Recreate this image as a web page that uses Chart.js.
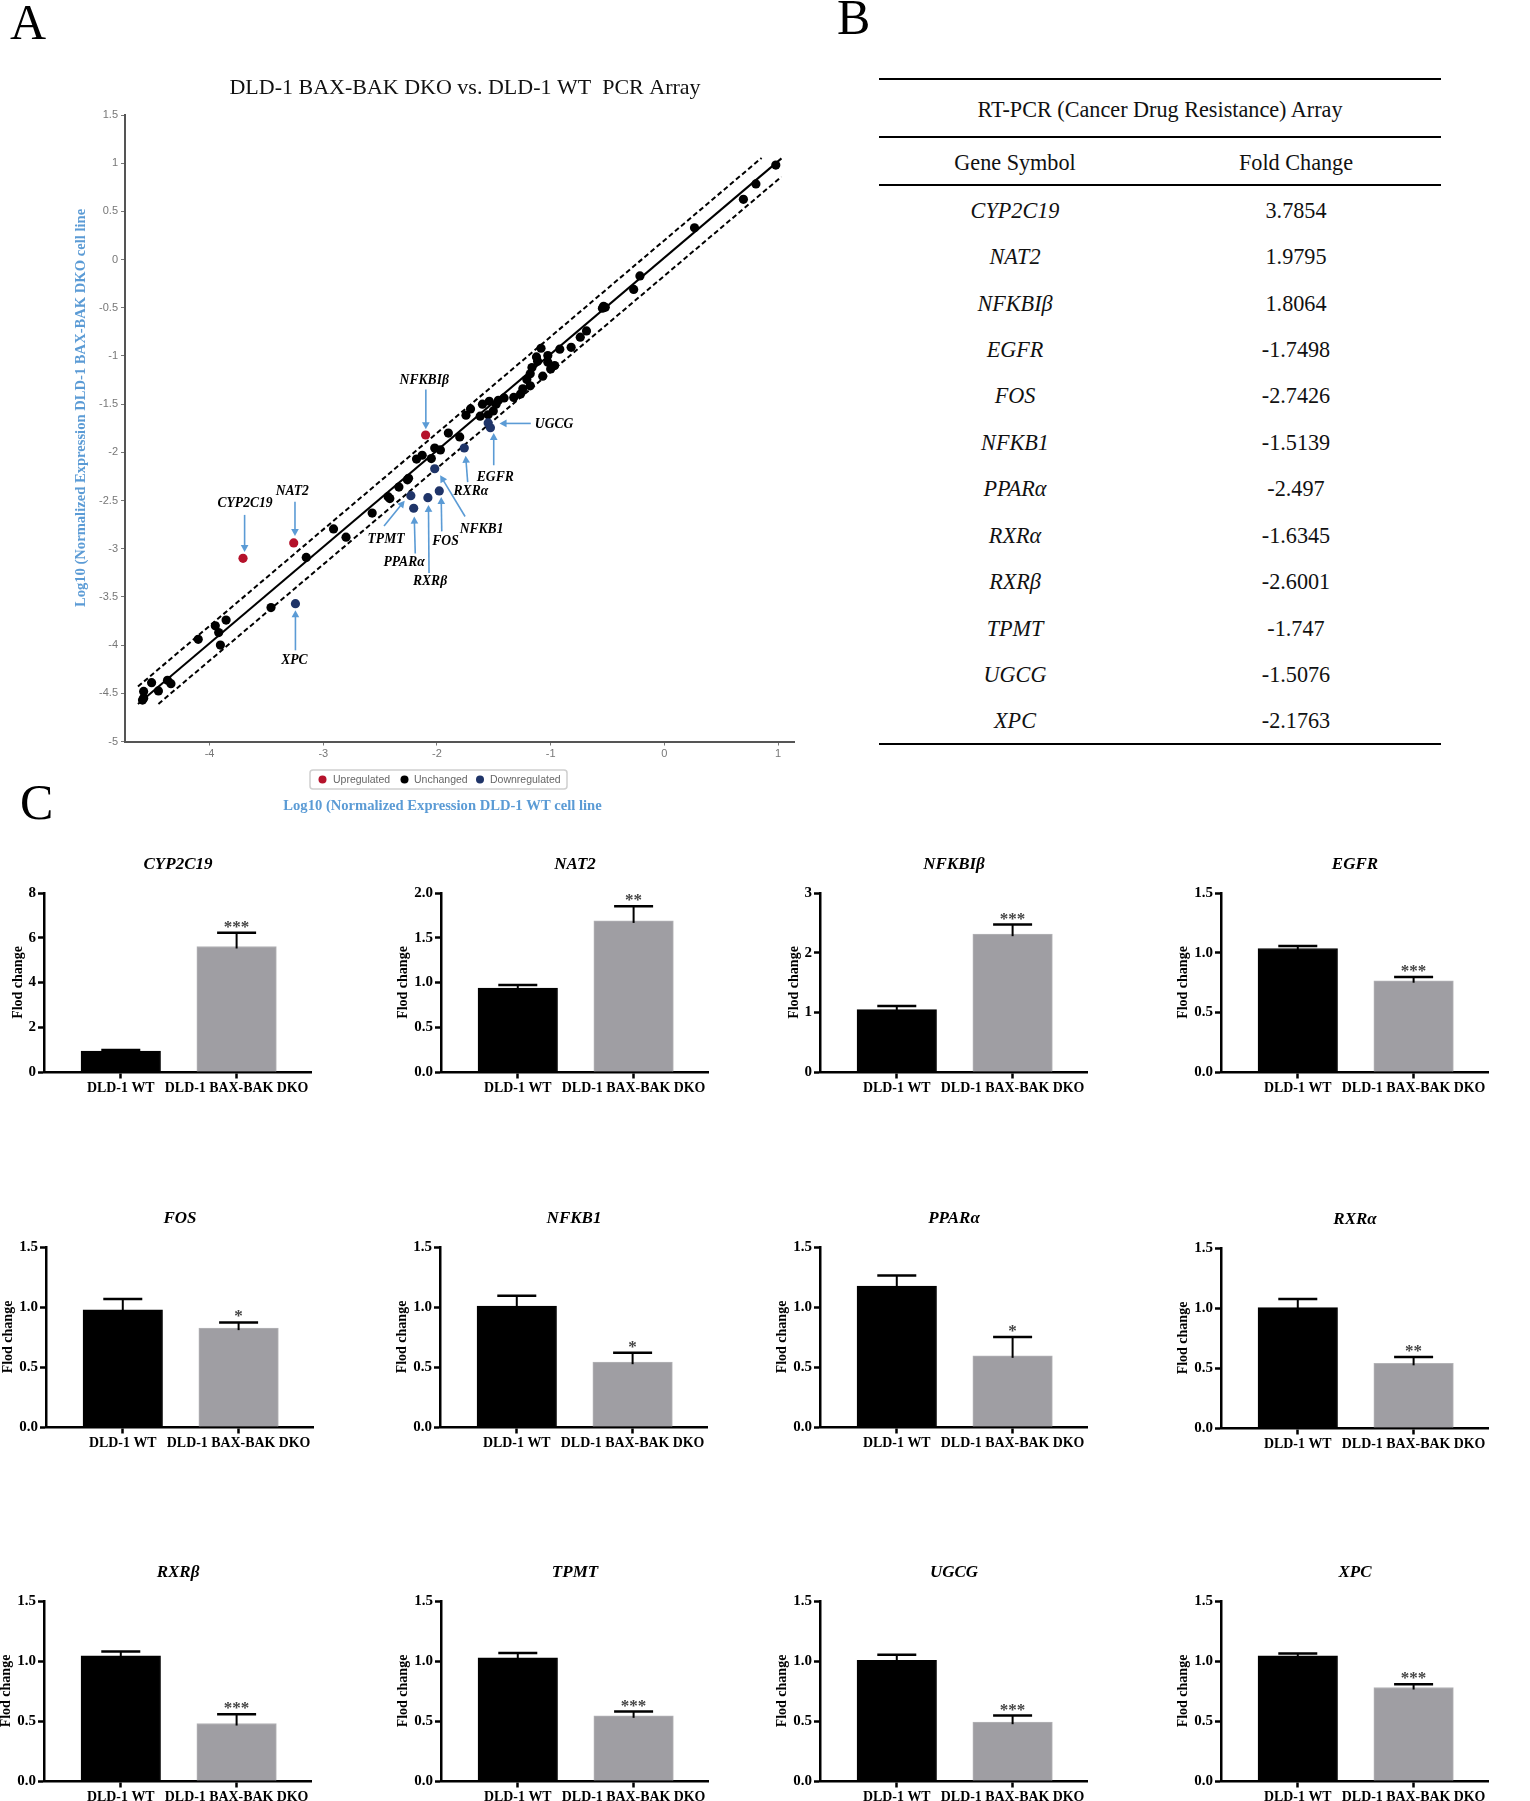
<!DOCTYPE html>
<html>
<head>
<meta charset="utf-8">
<title>PCR array</title>
<script src="https://cdn.jsdelivr.net/npm/chart.js@4"></script>
<style>
  html, body { margin: 0; padding: 0; background: #fff; overflow: hidden; }
  #page { position: relative; width: 1530px; height: 1801px; overflow: hidden; font-family: "Liberation Serif", serif; }
  #page canvas { position: absolute; }
  .letter { position: absolute; font-size: 50px; line-height: 50px; color: #000; }
  table { position: absolute; left: 879px; top: 78px; width: 562px; border-collapse: collapse; table-layout: fixed; font-size: 22.2px; color: #111; }
  td { padding: 3px 0 0 0; text-align: center; vertical-align: middle; height: 43.43px; }
  td.gene { font-style: italic; }
  tr.head td { border-top: 2px solid #000; padding-top: 4px; height: 52px; }
  tr.cols td { border-top: 2px solid #000; border-bottom: 2px solid #000; padding-top: 4px; height: 42px; }
  tr.last td { border-bottom: 2px solid #000; }
</style>
</head>
<body>
<div id="page">
  <div class="letter" style="left:10px;top:-3px">A</div>
  <div class="letter" style="left:837px;top:-8px">B</div>
  <div class="letter" style="left:20px;top:777px">C</div>
  <table id="foldTable"></table>
</div>
<script>
const upregulatedX = [-3.706, -3.26, -2.10];
const upregulatedY = [-3.10, -2.94, -1.82];
const downregulatedX = [-3.245, -2.23, -2.205, -2.08, -1.98, -2.02, -1.76, -1.55, -1.53];
const downregulatedY = [-3.57, -2.45, -2.58, -2.47, -2.40, -2.17, -1.955, -1.695, -1.745];
const unchangedX = [-4.58, -4.58, -4.59, -4.51, -4.45, -4.37, -4.34, -4.10, -3.95, -3.92, -3.855, -3.905, -3.46,
  -3.15, -2.91, -2.80, -2.57, -2.43, -2.415, -2.335, -2.26, -2.25, -2.18, -2.13, -2.05, -2.02, -1.97, -1.90, -1.80,
  -1.745, -1.705, -1.62, -1.60, -1.55, -1.54, -1.505, -1.48, -1.46, -1.41, -1.325, -1.265, -1.245, -1.18, -1.21,
  -1.18, -1.165, -1.125, -1.115, -1.085, -1.025, -1.025, -1.07, -1.0, -0.965, -0.92, -0.82, -0.74, -0.685,
  -0.545, -0.52, -0.535, -0.27, -0.215, 0.265, 0.695, 0.805, 0.98];
const unchangedY = [-4.48, -4.55, -4.57, -4.39, -4.475, -4.365, -4.40, -3.94, -3.80, -3.87, -3.74, -4.00, -3.61,
  -3.09, -2.795, -2.88, -2.63, -2.46, -2.48, -2.36, -2.285, -2.27, -2.07, -2.03, -2.065, -1.955, -1.975, -1.80, -1.84,
  -1.615, -1.55, -1.625, -1.50, -1.61, -1.47, -1.57, -1.50, -1.46, -1.435, -1.43, -1.395, -1.34, -1.31, -1.245,
  -1.185, -1.12, -1.01, -1.055, -0.92, -0.995, -1.065, -1.21, -1.135, -1.10, -0.93, -0.91, -0.805, -0.74,
  -0.505, -0.495, -0.485, -0.31, -0.17, 0.33, 0.625, 0.785, 0.98];
const centerLineX = [-4.63, 1.03];
const centerLineY = [-4.61, 1.05];
const upperLineX = [-4.63, 0.855];
const upperLineY = [-4.43, 1.055];
const lowerLineX = [-4.45, 1.03];
const lowerLineY = [-4.61, 0.86];
const scatterXTicks = [-4, -3, -2, -1, 0, 1];
const scatterYTicks = [-5, -4.5, -4, -3.5, -3, -2.5, -2, -1.5, -1, -0.5, 0, 0.5, 1, 1.5];

const genes = ['CYP2C19', 'NAT2', 'NFKBIβ', 'EGFR', 'FOS', 'NFKB1', 'PPARα', 'RXRα', 'RXRβ', 'TPMT', 'UGCG', 'XPC'];
const foldChanges = ['3.7854', '1.9795', '1.8064', '-1.7498', '-2.7426', '-1.5139', '-2.497', '-1.6345', '-2.6001', '-1.747', '-1.5076', '-2.1763'];
const categories = ['DLD-1 WT', 'DLD-1 BAX-BAK DKO'];
const wtValues = [0.935, 0.939, 1.046, 1.035, 0.977, 1.007, 1.174, 1.003, 1.044, 1.027, 1.005, 1.044];
const dkoValues = [5.61, 1.688, 2.31, 0.765, 0.824, 0.54, 0.593, 0.539, 0.479, 0.543, 0.49, 0.779];
const wtErrorTops = [0.98, 0.972, 1.108, 1.055, 1.066, 1.094, 1.263, 1.075, 1.08, 1.066, 1.052, 1.063];
const dkoErrorTops = [6.22, 1.852, 2.47, 0.796, 0.871, 0.618, 0.751, 0.592, 0.557, 0.579, 0.545, 0.807];
const stars = ['***', '**', '***', '***', '*', '*', '*', '**', '***', '***', '***', '***'];
const axisMax = [8, 2, 3, 1.5, 1.5, 1.5, 1.5, 1.5, 1.5, 1.5, 1.5, 1.5];
const axisStep = [2, 0.5, 1, 0.5, 0.5, 0.5, 0.5, 0.5, 0.5, 0.5, 0.5, 0.5];

// panel frames in page pixels: left end of x axis, top tick and baseline
const panelAxisX = [44, 441, 820, 1221, 46, 440, 820, 1221, 44, 441, 820, 1221];
const panelTop = [893, 893, 893, 893, 1247, 1247, 1247, 1248, 1601, 1601, 1601, 1601];
const panelBase = [1072, 1072, 1072, 1072, 1427, 1427, 1427, 1428, 1781, 1781, 1781, 1781];

// callouts on panel A, in axis units
const callouts = [
  { text: 'CYP2C19', label: [-3.688, -2.529], tail: [-3.692, -2.649], head: [-3.692, -3.033] },
  { text: 'NAT2', label: [-3.273, -2.409], tail: [-3.249, -2.512], head: [-3.249, -2.869] },
  { text: 'NFKBIβ', label: [-2.112, -1.251], tail: [-2.098, -1.349], head: [-2.098, -1.761] },
  { text: 'UGCG', label: [-0.97, -1.706], tail: [-1.175, -1.70], head: [-1.45, -1.70] },
  { text: 'EGFR', label: [-1.487, -2.265], tail: [-1.501, -2.134], head: [-1.501, -1.799] },
  { text: 'RXRα', label: [-1.702, -2.408], tail: [-1.73, -2.309], head: [-1.748, -2.035] },
  { text: 'NFKB1', label: [-1.608, -2.798], tail: [-1.753, -2.666], head: [-1.972, -2.238] },
  { text: 'FOS', label: [-1.925, -2.924], tail: [-1.958, -2.82], head: [-1.963, -2.463] },
  { text: 'TPMT', label: [-2.448, -2.902], tail: [-2.466, -2.765], head: [-2.284, -2.501] },
  { text: 'PPARα', label: [-2.289, -3.143], tail: [-2.191, -3.05], head: [-2.2, -2.666] },
  { text: 'RXRβ', label: [-2.061, -3.341], tail: [-2.07, -3.253], head: [-2.075, -2.545] },
  { text: 'XPC', label: [-3.254, -4.163], tail: [-3.245, -4.054], head: [-3.245, -3.637] }
];

const SERIF = '"Liberation Serif", serif';
const SANS = '"Liberation Sans", sans-serif';
const ARROW_BLUE = '#5b9bd5';
const RED = '#b5122b';
const NAVY = '#1f3468';

const zip = (xs, ys) => xs.map((x, i) => ({ x, y: ys[i] }));
const page = document.getElementById('page');

function addCanvas(left, top, width, height) {
  const c = document.createElement('canvas');
  c.width = width;
  c.height = height;
  c.style.left = left + 'px';
  c.style.top = top + 'px';
  c.style.width = width + 'px';
  c.style.height = height + 'px';
  page.appendChild(c);
  return c;
}

// table B
const tableRows = [
  '<colgroup><col style="width:272px"><col style="width:290px"></colgroup>',
  '<tr class="head"><td colspan="2">RT-PCR (Cancer Drug Resistance) Array</td></tr>',
  '<tr class="cols"><td>Gene Symbol</td><td>Fold Change</td></tr>'
];
genes.forEach((g, i) => {
  const cls = i === genes.length - 1 ? ' class="last"' : '';
  tableRows.push('<tr' + cls + '><td class="gene">' + g + '</td><td>' + foldChanges[i] + '</td></tr>');
});
document.getElementById('foldTable').innerHTML = tableRows.join('');

// panel A
const scatterNotes = {
  id: 'scatterNotes',
  afterDatasetsDraw(chart) {
    const { ctx, scales: { x, y } } = chart;
    ctx.save();

    ctx.fillStyle = '#111';
    ctx.font = '22px ' + SERIF;
    ctx.textAlign = 'center';
    ctx.textBaseline = 'middle';
    ctx.fillText('DLD-1 BAX-BAK DKO vs. DLD-1 WT  PCR Array', 465, 88);

    ctx.fillStyle = ARROW_BLUE;
    ctx.font = 'bold 14.6px ' + SERIF;
    ctx.fillText('Log10 (Normalized Expression DLD-1 WT cell line', 442.5, 806);
    ctx.save();
    ctx.translate(81, 408);
    ctx.rotate(-Math.PI / 2);
    ctx.fillText('Log10 (Normalized Expression DLD-1 BAX-BAK DKO cell line', 0, 0);
    ctx.restore();

    callouts.forEach(c => {
      const x0 = x.getPixelForValue(c.tail[0]), y0 = y.getPixelForValue(c.tail[1]);
      const x1 = x.getPixelForValue(c.head[0]), y1 = y.getPixelForValue(c.head[1]);
      const a = Math.atan2(y1 - y0, x1 - x0);
      ctx.strokeStyle = ARROW_BLUE;
      ctx.fillStyle = ARROW_BLUE;
      ctx.lineWidth = 1.6;
      ctx.beginPath();
      ctx.moveTo(x0, y0);
      ctx.lineTo(x1 - 6 * Math.cos(a), y1 - 6 * Math.sin(a));
      ctx.stroke();
      ctx.beginPath();
      ctx.moveTo(x1, y1);
      ctx.lineTo(x1 - 8 * Math.cos(a - 0.5), y1 - 8 * Math.sin(a - 0.5));
      ctx.lineTo(x1 - 8 * Math.cos(a + 0.5), y1 - 8 * Math.sin(a + 0.5));
      ctx.closePath();
      ctx.fill();
      ctx.fillStyle = '#000';
      ctx.font = 'italic bold 13.6px ' + SERIF;
      ctx.fillText(c.text, x.getPixelForValue(c.label[0]), y.getPixelForValue(c.label[1]));
    });

    // legend box
    ctx.strokeStyle = '#cfcfcf';
    ctx.lineWidth = 1.5;
    ctx.beginPath();
    ctx.roundRect(310, 770, 257, 19, 3);
    ctx.stroke();
    [[322.5, 333, RED, 'Upregulated'], [404.5, 414, '#000', 'Unchanged'], [480, 490, NAVY, 'Downregulated']].forEach(e => {
      ctx.fillStyle = e[2];
      ctx.beginPath();
      ctx.arc(e[0], 779.5, 4, 0, Math.PI * 2);
      ctx.fill();
      ctx.fillStyle = '#666';
      ctx.font = '10.5px ' + SANS;
      ctx.textAlign = 'left';
      ctx.fillText(e[3], e[1], 780);
      ctx.textAlign = 'center';
    });
    ctx.restore();
  }
};

const dotSet = (xs, ys, color) => ({
  data: zip(xs, ys), backgroundColor: color, borderColor: color, pointRadius: 4.6, borderWidth: 0, showLine: false
});
const lineSet = (xs, ys, dash) => ({
  data: zip(xs, ys), borderColor: '#000', borderWidth: 2, borderDash: dash, pointRadius: 0, showLine: true, fill: false
});

new Chart(addCanvas(0, 0, 930, 830), {
  type: 'scatter',
  data: {
    datasets: [
      dotSet(upregulatedX, upregulatedY, RED),
      dotSet(downregulatedX, downregulatedY, NAVY),
      dotSet(unchangedX, unchangedY, '#000'),
      lineSet(centerLineX, centerLineY, []),
      lineSet(upperLineX, upperLineY, [5, 3]),
      lineSet(lowerLineX, lowerLineY, [5, 3])
    ]
  },
  options: {
    responsive: false,
    animation: false,
    layout: { padding: { top: 115, right: 136 } },
    plugins: { legend: { display: false }, tooltip: { enabled: false } },
    scales: {
      x: {
        type: 'linear',
        min: -4.744,
        max: 1.14,
        afterBuildTicks: s => { s.ticks = scatterXTicks.map(value => ({ value })); },
        afterFit: s => { s.height = 88.5; },
        grid: { drawOnChartArea: false, tickLength: 4, tickColor: '#777' },
        border: { color: '#555', width: 2 },
        ticks: { color: '#777', font: { family: SANS, size: 11 }, padding: 2, maxRotation: 0, callback: v => String(v) }
      },
      y: {
        type: 'linear',
        min: -5,
        max: 1.5,
        afterBuildTicks: s => { s.ticks = scatterYTicks.map(value => ({ value })); },
        afterFit: s => { s.width = 125; },
        grid: { drawOnChartArea: false, tickLength: 4, tickColor: '#777' },
        border: { color: '#555', width: 2 },
        ticks: { color: '#777', font: { family: SANS, size: 11 }, padding: 3, autoSkip: false, callback: v => String(v) }
      }
    }
  },
  plugins: [scatterNotes]
});

// panel C
const MARGIN = 50;
const PLOT_W = 268;
const TITLE_H = 48;

const barNotes = {
  id: 'barNotes',
  afterDatasetsDraw(chart, args, opts) {
    const { ctx, chartArea, scales: { x, y } } = chart;
    ctx.save();
    ctx.strokeStyle = '#000';
    opts.tops.forEach((top, i) => {
      const px = x.getPixelForValue(i);
      const barY = y.getPixelForValue(opts.values[i]);
      const capY = y.getPixelForValue(top);
      ctx.lineWidth = 2;
      ctx.beginPath();
      ctx.moveTo(px, barY + 2);
      ctx.lineTo(px, capY);
      ctx.stroke();
      ctx.lineWidth = 2.5;
      ctx.beginPath();
      ctx.moveTo(px - 19.5, capY);
      ctx.lineTo(px + 19.5, capY);
      ctx.stroke();
    });
    ctx.fillStyle = '#444';
    ctx.font = 'bold 17px ' + SERIF;
    ctx.textAlign = 'center';
    ctx.textBaseline = 'alphabetic';
    ctx.fillText(opts.star, x.getPixelForValue(1), y.getPixelForValue(opts.tops[1]) - 1);

    ctx.fillStyle = '#000';
    ctx.font = 'italic bold 17px ' + SERIF;
    ctx.textBaseline = 'middle';
    ctx.fillText(opts.title, (chartArea.left + chartArea.right) / 2, chartArea.top - 28.7);
    ctx.restore();
  }
};

genes.forEach((gene, i) => {
  const plotH = panelBase[i] - panelTop[i];
  const canvas = addCanvas(panelAxisX[i] - MARGIN, panelTop[i] - TITLE_H, MARGIN + PLOT_W, TITLE_H + plotH + 34);
  const wholeTicks = axisStep[i] >= 1;
  new Chart(canvas, {
    type: 'bar',
    data: {
      datasets: [{
        data: [{ x: 0, y: wtValues[i] }, { x: 1, y: dkoValues[i] }],
        backgroundColor: ['#000', '#9f9ea3'],
        borderColor: ['#000', '#b3b3b6'],
        borderWidth: 1,
        barThickness: 79.5
      }]
    },
    options: {
      responsive: false,
      animation: false,
      layout: { padding: { top: TITLE_H } },
      plugins: {
        legend: { display: false },
        tooltip: { enabled: false },
        barNotes: { tops: [wtErrorTops[i], dkoErrorTops[i]], values: [wtValues[i], dkoValues[i]], star: stars[i], title: gene }
      },
      scales: {
        x: {
          type: 'linear',
          offset: false,
          min: -0.663,
          max: 1.651,
          afterBuildTicks: s => { s.ticks = [{ value: 0 }, { value: 1 }]; },
          afterFit: s => { s.height = 34; },
          grid: { offset: false, drawOnChartArea: false, tickLength: 6.5, tickWidth: 2.5, tickColor: '#000' },
          border: { color: '#000', width: 2.5 },
          ticks: {
            color: '#000',
            font: { family: SERIF, size: 13.9, weight: 'bold' },
            padding: 2,
            maxRotation: 0,
            autoSkip: false,
            callback: v => categories[v]
          }
        },
        y: {
          min: 0,
          max: axisMax[i],
          afterFit: s => { s.width = MARGIN; },
          grid: { drawOnChartArea: false, tickLength: 6, tickWidth: 2.5, tickColor: '#000' },
          border: { color: '#000', width: 2.5 },
          ticks: {
            stepSize: axisStep[i],
            color: '#000',
            font: { family: SERIF, size: 15, weight: 'bold' },
            padding: 2,
            callback: v => (wholeTicks ? String(v) : v.toFixed(1))
          },
          title: {
            display: true,
            text: 'Flod change',
            color: '#000',
            font: { family: SERIF, size: 14, weight: 'bold' },
            padding: { top: wholeTicks ? 15.6 : 3.6, bottom: 0 }
          }
        }
      }
    },
    plugins: [barNotes]
  });
});
</script>
</body>
</html>
